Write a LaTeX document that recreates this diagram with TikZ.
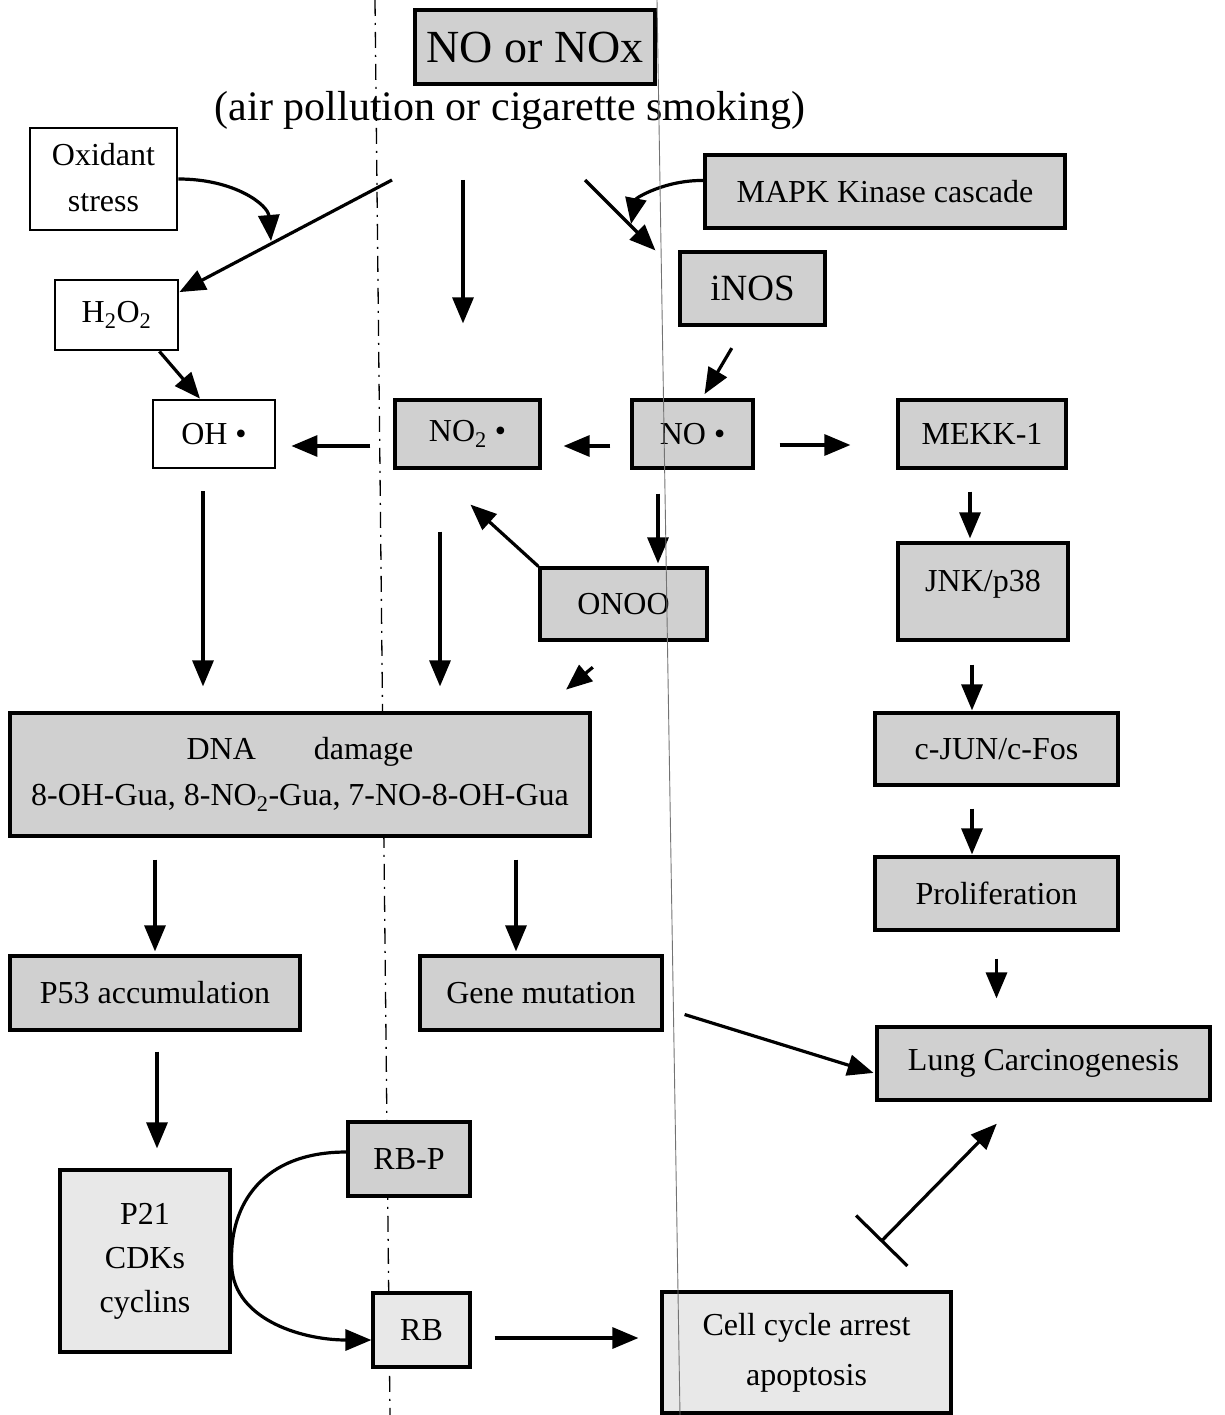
\documentclass[tikz,border=0pt]{standalone}
\usepackage{fontspec}
\setmainfont{Liberation Serif}
\usepackage{tikz}
\usetikzlibrary{arrows.meta,calc}
\definecolor{stipple}{RGB}{208,208,208}
\definecolor{palestipple}{RGB}{232,232,232}

\begin{document}
\begin{tikzpicture}[x=1pt, y=-1pt,
	box/.style={draw, line width=3.2pt, inner sep=0pt, align=center, font=\fontsize{32}{46}\selectfont},
	plain/.style={box, line width=2.8pt, fill=white},
	shaded/.style={box, fill=stipple},
	pale/.style={box, fill=palestipple},
	arr/.style={line width=3.2pt, -{Triangle[length=26pt,width=21pt]}},
	inhib/.style={line width=3.2pt, {Bar[width=72pt]}-{Triangle[length=26pt,width=21pt]}}]

	\useasboundingbox (0,0) rectangle (1225,1415);

	% scan marks
	\draw[line width=1.3pt, dash pattern=on 16pt off 7pt on 2pt off 7pt] (375,0) -- (390,1415);

	% source
	\node[shaded, minimum width=240pt, minimum height=74pt, font=\fontsize{46}{52}\selectfont] (nox) at (535,47) {NO or NOx};
	\node[font=\fontsize{42}{48}\selectfont] (src) at (510,110) {(air pollution or cigarette smoking)};
	\coordinate (n1) at (392,180);
	\coordinate (n2) at (463,180);
	\coordinate (n3) at (585,180);

	% upper row
	\node[plain, minimum width=147pt, minimum height=102pt] (oxid) at (103.5,179) {\raisebox{18pt}{\begin{tabular}{@{}c@{}}Oxidant\\stress\end{tabular}}};
	\node[shaded, minimum width=360pt, minimum height=73pt] (mapk) at (885,191.5) {MAPK Kinase cascade};
	\node[shaded, minimum width=145pt, minimum height=73pt, font=\fontsize{37}{42}\selectfont] (inos) at (752.5,288.5) {iNOS};
	\node[plain, minimum width=123pt, minimum height=70pt] (hoo) at (116.5,315) {H\textsubscript{2}O\textsubscript{2}};

	% radicals
	\node[plain, minimum width=122pt, minimum height=68pt] (oh) at (214,434) {OH \textbullet};
	\node[shaded, minimum width=145pt, minimum height=68pt] (notwo) at (467.5,434) {NO\textsubscript{2} \textbullet};
	\node[shaded, minimum width=121pt, minimum height=68pt] (no) at (692.5,434) {NO \textbullet};
	\node[shaded, minimum width=168pt, minimum height=68pt] (mekk) at (982,434) {MEKK-1};
	\node[shaded, minimum width=167pt, minimum height=72pt] (onoo) at (623.5,604) {ONOO};

	% kinase branch
	\node[shaded, minimum width=170pt, minimum height=97pt] (jnk) at (983,591.5) {\raisebox{22pt}{JNK/p38}};
	\node[shaded, minimum width=243pt, minimum height=72pt] (cjun) at (996.5,749) {c-JUN/c-Fos};
	\node[shaded, minimum width=243pt, minimum height=73pt] (prolif) at (996.5,893.5) {Proliferation};
	\node[shaded, minimum width=333pt, minimum height=73pt] (lung) at (1043.5,1063.5) {Lung Carcinogenesis};

	% damage branch
	\node[shaded, minimum width=580pt, minimum height=123pt] (dna) at (300,774.5) {DNA\hspace{58pt}damage\\8-OH-Gua, 8-NO\textsubscript{2}-Gua, 7-NO-8-OH-Gua};
	\node[shaded, minimum width=290pt, minimum height=74pt] (p53) at (155,993) {P53 accumulation};
	\node[shaded, minimum width=242pt, minimum height=74pt] (gene) at (541,993) {Gene mutation};
	\node[pale, minimum width=170pt, minimum height=182pt, font=\fontsize{32}{44}\selectfont] (p21) at (145,1261) {P21\\CDKs\\cyclins};
	\node[shaded, minimum width=122pt, minimum height=74pt] (rbp) at (409,1159) {RB-P};
	\node[pale, minimum width=97pt, minimum height=74pt] (rb) at (421.5,1330) {RB};
	\node[pale, minimum width=289pt, minimum height=121pt, font=\fontsize{32}{50}\selectfont] (cell) at (806.5,1352.5) {Cell cycle arrest\\apoptosis};

	% arrows from the source
	\draw[arr] (n1) -- (hoo.20);
	\draw[arr, shorten >=75pt] (n2) -- (n2 |- notwo.north);
	\draw[arr] (n3) -- ([xshift=-23pt]inos.north west);
	\coordinate (ox2) at (271,241);
	\draw[arr] (oxid.east) .. controls (235,179) and (268,205) .. (ox2);
	\coordinate (mk2) at (631,224);
	\draw[arr] ([yshift=11pt]mapk.west) .. controls (665,180) and (636,198) .. (mk2);

	% radicals
	\draw[arr] ([xshift=-20pt]hoo.south east) -- ([xshift=-14pt]oh.north);
	\draw[arr, shorten <=25pt, shorten >=5pt] ([xshift=-8pt]inos.south) -- ([xshift=9.5pt]no.north);
	\draw[arr, shorten <=23pt, shorten >=15pt] ([yshift=-12pt]notwo.west) -- ([yshift=-12pt]oh.east);
	\draw[arr, shorten <=20pt, shorten >=22pt] ([yshift=-12pt]no.west) -- ([yshift=-12pt]notwo.east);
	\draw[arr, shorten <=25pt, shorten >=46pt] ([yshift=-11pt]no.east) -- ([yshift=-11pt]mekk.west);
	\draw[arr, shorten <=24pt, shorten >=3pt] ([xshift=-34.5pt]no.south) -- ([xshift=-34.5pt]no.south |- onoo.north);
	\draw[arr, shorten >=52pt] (onoo.north west) -- ([xshift=-35.5pt]notwo.south);

	% into DNA damage
	\draw[arr, shorten <=22pt, shorten >=25pt] ([xshift=-11pt]oh.south) -- ([xshift=-11pt]oh.south |- dna.north);
	\draw[arr, shorten <=62pt, shorten >=25pt] ([xshift=-27.5pt]notwo.south) -- ([xshift=-27.5pt]notwo.south |- dna.north);
	\draw[arr, shorten <=40pt, shorten >=34pt] (onoo.south) -- ([xshift=240pt]dna.north);

	% kinase cascade
	\draw[arr, shorten <=22pt, shorten >=3pt] ([xshift=-12pt]mekk.south) -- ([xshift=-12pt]mekk.south |- jnk.north);
	\draw[arr, shorten <=23pt, shorten >=1pt] ([xshift=-11pt]jnk.south) -- ([xshift=-11pt]jnk.south |- cjun.north);
	\draw[arr, shorten <=22pt, shorten >=1pt] ([xshift=-24.5pt]cjun.south) -- ([xshift=-24.5pt]cjun.south |- prolif.north);
	\draw[arr, shorten <=27pt, shorten >=27pt] (prolif.south) -- (prolif.south |- lung.north);

	% below DNA damage
	\draw[arr, shorten <=22pt, shorten >=3pt] (dna.south -| p53.north) -- (p53.north);
	\draw[arr, shorten <=22pt, shorten >=3pt] ([xshift=-25pt]gene.north |- dna.south) -- ([xshift=-25pt]gene.north);
	\draw[arr, shorten <=20pt, shorten >=20pt] ([xshift=2pt]p53.south) -- ([xshift=2pt]p53.south |- p21.north);
	\draw[arr, shorten <=22pt, shorten >=2pt] ($(gene.east)+(0,15)$) -- ($(lung.west)+(0,10)$);

	% RB cycle
	\draw[arr] ([yshift=7pt]rbp.west) .. controls (262,1152) and (230,1205) .. (p21.east) .. controls (230,1318) and (300,1340) .. ([yshift=-10pt]rb.west);
	\draw[arr, shorten <=23pt, shorten >=22pt] ([yshift=-8pt]rb.east) -- ([yshift=-8pt]rb.east -| cell.west);
	\draw[inhib, shorten <=68pt, shorten >=31pt] ([xshift=26.5pt]cell.north) -- ([xshift=-25pt]lung.south);

	% scan marks
	\draw[black!55, line width=0.9pt] (657,0) -- (680,1415);

\end{tikzpicture}
\end{document}
